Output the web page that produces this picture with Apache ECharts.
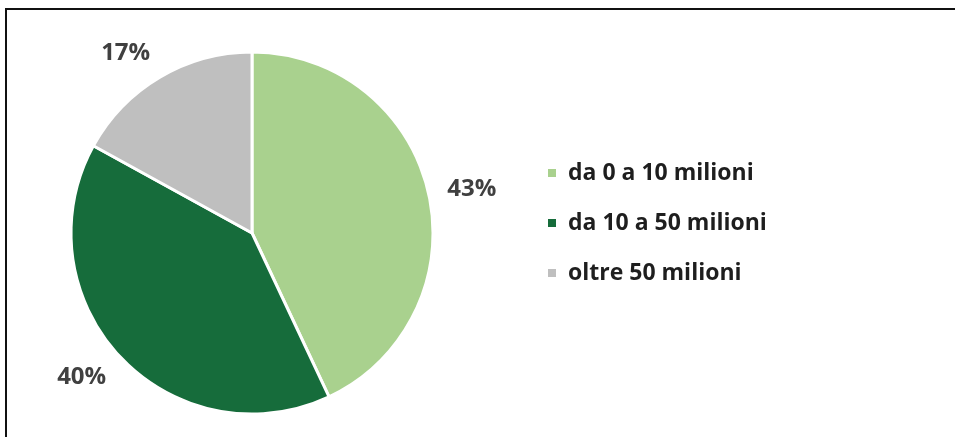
<!DOCTYPE html>
<html>
<head>
<meta charset="utf-8">
<script src="https://cdn.jsdelivr.net/npm/echarts@6/dist/echarts.min.js"></script>
<style>
  html, body { margin: 0; padding: 0; background: #fff; overflow: hidden; }
  #frame {
    position: absolute; left: 5px; top: 8px; width: 1000px; height: 500px;
    border-left: 2px solid #111; border-top: 2px solid #111; box-sizing: border-box;
  }
  #chart { position: absolute; left: 0; top: 0; width: 955px; height: 437px; }
</style>
</head>
<body>
<div id="frame"></div>
<div id="chart"></div>
<script>
const categories = ['da 0 a 10 milioni', 'da 10 a 50 milioni', 'oltre 50 milioni']
const values = [43, 40, 17]
const colors = ['#a9d18e', '#166c3b', '#bfbfbf']

const total = values.reduce((a, b) => a + b, 0)

// direction of the middle of a slice (start at 12 o'clock, clockwise)
function midDir(i) {
  const before = values.slice(0, i).reduce((a, b) => a + b, 0)
  const frac = (before + values[i] / 2) / total
  const ang = Math.PI / 2 - frac * 2 * Math.PI
  return { dx: Math.cos(ang), dy: -Math.sin(ang) }
}

const chart = echarts.init(document.getElementById('chart'), null, { renderer: 'canvas' })

chart.setOption({
  backgroundColor: 'transparent',
  animation: false,
  color: colors,
  legend: {
    orient: 'vertical',
    left: 541,
    top: 155,
    icon: 'rect',
    itemWidth: 10,
    itemHeight: 10,
    itemGap: 24,
    data: categories,
    textStyle: {
      fontFamily: 'Open Sans',
      fontWeight: 'bold',
      fontSize: 23,
      lineHeight: 26,
      color: '#1e1e1e',
      padding: [0, 0, 0, 6],
    },
  },
  series: [
    {
      type: 'pie',
      center: [252, 233],
      radius: 181,
      startAngle: 90,
      clockwise: true,
      avoidLabelOverlap: false,
      itemStyle: { borderColor: '#fff', borderWidth: 3 },
      label: {
        show: true,
        position: 'outside',
        formatter: '{c}%',
        fontFamily: 'Open Sans',
        fontWeight: 'bold',
        fontSize: 24,
        color: '#404040',
        distanceToLabelLine: 0,
      },
      labelLine: { show: false, length: 19, length2: 0 },
      labelLayout: function (p) {
        const d = midDir(p.dataIndex)
        if (Math.abs(d.dy) < 0.4) return {}
        return { dy: Math.sign(d.dy) * p.labelRect.height * 0.32 }
      },
      emphasis: { disabled: true },
      data: categories.map((name, i) => ({ name: name, value: values[i] })),
    },
  ],
})
</script>
</body>
</html>
